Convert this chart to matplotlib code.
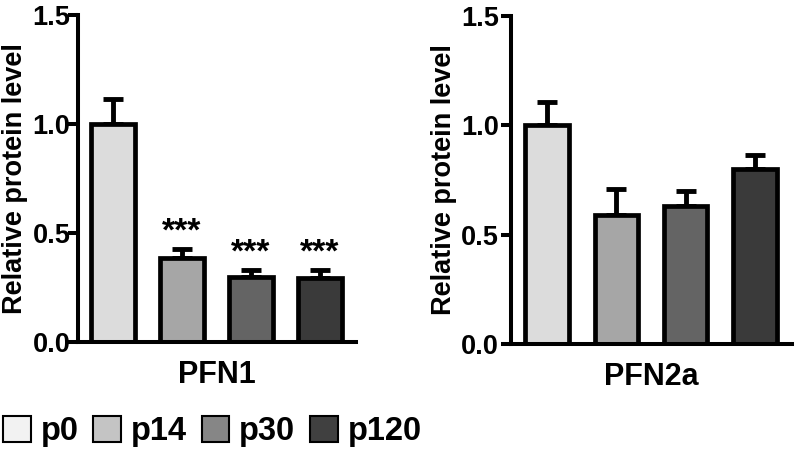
import numpy as np
import matplotlib.pyplot as plt
from matplotlib.patches import Patch

plt.rcParams['font.family'] = ['Liberation Sans', 'DejaVu Sans']
plt.rcParams['font.weight'] = 'bold'

groups = ['p0', 'p14', 'p30', 'p120']
bar_colors = ['#dcdcdc', '#a6a6a6', '#646464', '#3a3a3a']
legend_colors = ['#f2f2f2', '#c4c4c4', '#868686', '#404040']

pfn1_mean = [1.0, 0.385, 0.30, 0.295]
pfn1_err = [0.115, 0.042, 0.032, 0.035]
pfn1_stars = ['', '***', '***', '***']

pfn2a_mean = [1.0, 0.59, 0.63, 0.80]
pfn2a_err = [0.105, 0.12, 0.07, 0.065]

yticks = [0.0, 0.5, 1.0, 1.5]

fig = plt.figure(figsize=(7.96, 4.55), dpi=100)


def panel(rect, means, errs, title, xlim, tick_pad, stars=None):
    ax = fig.add_axes(rect)
    x = np.arange(len(means))
    ax.errorbar(x, means, yerr=[np.zeros(len(errs)), errs], fmt='none',
                ecolor='black', elinewidth=3.5, capsize=7.5, capthick=3.5, zorder=1)
    ax.bar(x, means, width=0.63, color=bar_colors, edgecolor='black',
           linewidth=3.4, zorder=2)
    if stars:
        for xi, m, e, s in zip(x, means, errs, stars):
            if s:
                ax.text(xi, m + e + 0.005, s, ha='center', va='bottom',
                        fontsize=24.5, fontweight='bold')
    ax.set_xlim(*xlim)
    ax.set_ylim(0, 1.5)
    ax.set_yticks(yticks)
    ax.set_yticklabels([f'{t:.1f}' for t in yticks])
    ax.set_xticks([])
    for s in ['top', 'right']:
        ax.spines[s].set_visible(False)
    for s in ['left', 'bottom']:
        ax.spines[s].set_linewidth(2.9)
        ax.spines[s].set_capstyle('projecting')
    ax.tick_params(axis='y', length=7, width=2.9, labelsize=19.5, pad=tick_pad)
    ax.set_ylabel('Relative protein level', fontsize=19.5, fontweight='bold', labelpad=3)
    ax.set_xlabel(title, fontsize=22, fontweight='bold', labelpad=13)
    return ax


ax1 = panel([0.098, 0.2484, 0.349, 0.718], pfn1_mean, pfn1_err, 'PFN1',
            (-0.507, 3.52), -1.5, pfn1_stars)
ax2 = panel([0.642, 0.244, 0.353, 0.721], pfn2a_mean, pfn2a_err, 'PFN2a',
            (-0.52, 3.535), 1.5)

handles = [Patch(facecolor=c, edgecolor='black', linewidth=1.5) for c in legend_colors]
fig.legend(handles, groups, loc='center left', bbox_to_anchor=(0.0, 0.052),
           ncol=4, frameon=False, fontsize=23.5, handlelength=0.85, handleheight=0.85,
           handletextpad=0.3, columnspacing=0.45, borderaxespad=0, borderpad=0.1)

fig.savefig('out.png', dpi=100)
